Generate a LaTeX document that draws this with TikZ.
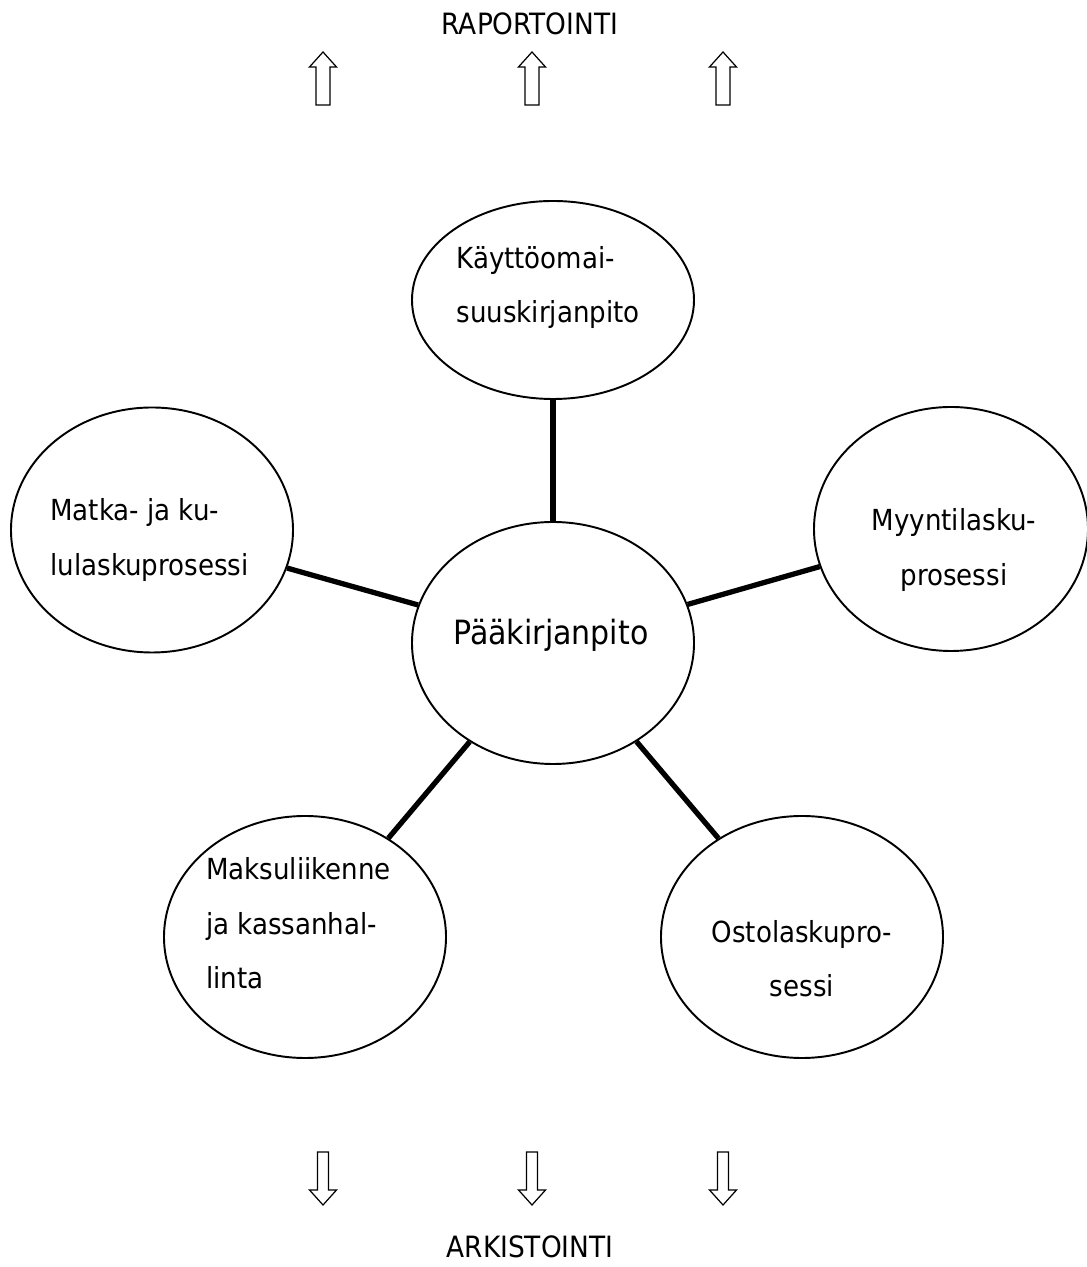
\documentclass[tikz,border=0pt]{standalone}
\usepackage{fontspec}
\setmainfont{DejaVu Sans Condensed}
\usetikzlibrary{shapes.geometric}

\tikzset{
  bubble/.style={draw, ellipse, line width=1.1pt, inner sep=0pt,
    minimum width=5.64cm, minimum height=4.84cm},
  txt/.style={font={\fontsize{16.5}{31}\selectfont}, inner sep=0pt},
  title/.style={anchor=base, inner sep=0pt, font=\fontsize{16.7}{20}\selectfont},
  link/.style={line width=3pt},
  blockarrow/.style={line width=0.7pt}
}

\begin{document}
\begin{tikzpicture}

  \useasboundingbox (0,0) rectangle (21.74,25.34);

  % --- titoli ---
  \node[title] (rap) at (10.6,24.64) {RAPORTOINTI};
  \node[title] (ark) at (10.6,0.2) {ARKISTOINTI};

  % --- frecce su ---
  \draw[blockarrow] (6.32,23.24) -- ++(0,0.76) -- ++(-0.13,0) -- ++(0.27,0.3) -- ++(0.27,-0.3) -- ++(-0.13,0) -- ++(0,-0.76) -- cycle;
  \draw[blockarrow] (10.50,23.24) -- ++(0,0.76) -- ++(-0.13,0) -- ++(0.27,0.3) -- ++(0.27,-0.3) -- ++(-0.13,0) -- ++(0,-0.76) -- cycle;
  \draw[blockarrow] (14.32,23.24) -- ++(0,0.76) -- ++(-0.13,0) -- ++(0.27,0.3) -- ++(0.27,-0.3) -- ++(-0.13,0) -- ++(0,-0.76) -- cycle;

  % --- frecce giu ---
  \draw[blockarrow] (6.35,2.30) -- ++(0,-0.76) -- ++(-0.16,0) -- ++(0.27,-0.3) -- ++(0.27,0.3) -- ++(-0.16,0) -- ++(0,0.76) -- cycle;
  \draw[blockarrow] (10.53,2.30) -- ++(0,-0.76) -- ++(-0.16,0) -- ++(0.27,-0.3) -- ++(0.27,0.3) -- ++(-0.16,0) -- ++(0,0.76) -- cycle;
  \draw[blockarrow] (14.35,2.30) -- ++(0,-0.76) -- ++(-0.16,0) -- ++(0.27,-0.3) -- ++(0.27,0.3) -- ++(-0.16,0) -- ++(0,0.76) -- cycle;

  % --- ellissi ---
  \node[bubble] (paa) at (11.06,12.48) {};
  \node[bubble, minimum height=3.96cm] (kaytto) at (11.06,19.34) {};
  \node[bubble, minimum height=4.9cm] (matka) at (3.04,14.74) {};
  \node[bubble, minimum width=5.48cm, minimum height=4.88cm] (myynti) at (19.02,14.76) {};
  \node[bubble] (maksu) at (6.10,6.60) {};
  \node[bubble] (osto) at (16.04,6.60) {};

  % --- testi ---
  \node[txt, font=\fontsize{19}{23}\selectfont] (paa-t) at ([xshift=-0.04cm, yshift=0.16cm]paa) {Pääkirjanpito};
  \node[txt, align=left] (kaytto-t) at ([xshift=-0.1cm, yshift=0.25cm]kaytto) {Käyttöomai-\\suuskirjanpito};
  \node[txt, align=left] (matka-t) at ([xshift=-0.05cm, yshift=-0.2cm]matka) {Matka- ja ku-\\lulaskuprosessi};
  \node[txt, align=center] (myynti-t) at ([xshift=0.06cm, yshift=-0.42cm]myynti) {Myyntilasku-\\prosessi};
  \node[txt, align=left] (maksu-t) at ([xshift=-0.13cm, yshift=0.27cm]maksu) {Maksuliikenne\\ja kassanhal-\\linta};
  \node[txt, align=center] (osto-t) at ([yshift=-0.43cm]osto) {Ostolaskupro-\\sessi};

  % --- collegamenti ---
  \draw[link] (paa) -- (kaytto);
  \draw[link] (paa) -- (matka);
  \draw[link] (paa) -- (myynti);
  \draw[link] (paa) -- (maksu);
  \draw[link] (paa) -- (osto);

\end{tikzpicture}
\end{document}
